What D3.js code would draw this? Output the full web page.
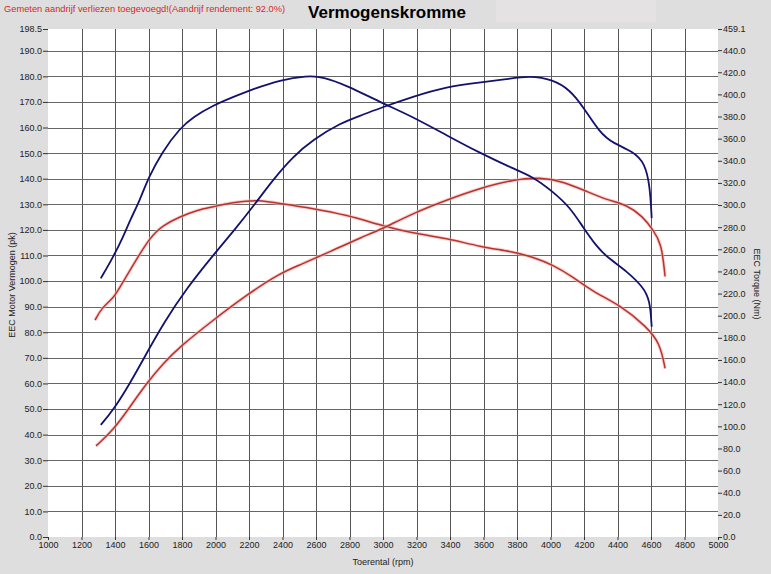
<!DOCTYPE html>
<html>
<head>
<meta charset="utf-8">
<script src="https://cdn.jsdelivr.net/npm/d3@7"></script>
<style>
  body { margin: 0; background: #dedede; }
  svg { display: block; font-family: "Liberation Sans", Arial, sans-serif; }
</style>
</head>
<body>
<svg id="viz"></svg>
<script>
// window sizing
var width = 771,
	height = 574;

// plot box
var margin = {top: 29, right: 53, bottom: 37, left: 48};

// axis ranges and tick values
var rpmTicks = d3.range(1000, 5001, 200);
var pkMax = 198.5;
var nmMax = 459.1;
var pkTicks = d3.range(0, 191, 10).concat([pkMax]);
var nmTicks = d3.range(0, 441, 20).concat([nmMax]);

// run 1 (blue) - [rpm, value]
var blueTorque = [
	[1315, 233.7], [1390, 253.3], [1448, 271], [1490, 286.4], [1549, 304.5],
	[1597, 324], [1681, 348], [1788, 369.5], [1866, 379.5], [1985, 390],
	[2104, 397.5], [2224, 404.8], [2385, 413], [2546, 416.8], [2642, 416],
	[2785, 408], [2982, 393], [3179, 379.7], [3380, 363], [3579, 347],
	[3776, 333], [3896, 325.5], [4015, 312], [4116, 298], [4194, 280],
	[4278, 262], [4337, 253], [4457, 240], [4552, 226], [4594, 214], [4604, 190]
];
var bluePower = [
	[1315, 43.8], [1390, 49.6], [1490, 60.1], [1589, 71.8], [1689, 83.5],
	[1828, 97.2], [1987, 110.2], [2120, 120.5], [2224, 129.1],
	[2343, 139.6], [2463, 148.7], [2582, 155.2], [2743, 161.7], [2881, 165],
	[2982, 167.6], [3179, 172.1], [3380, 176], [3579, 177.6], [3739, 178.9],
	[3878, 180.3], [4015, 178.7], [4116, 174.7], [4194, 168.2], [4296, 157.8],
	[4373, 153.9], [4493, 150.6], [4564, 146.1], [4594, 137], [4604, 124.6]
];

// run 2 (red) - [rpm, value]
var redTorque = [
	[1281, 196], [1320, 207], [1390, 215.7], [1430, 226], [1490, 241.2],
	[1609, 271.3], [1689, 281.9], [1788, 289.4], [1888, 295.4], [1987, 298.4],
	[2087, 302], [2186, 303.6], [2246, 304.5], [2385, 301.5], [2582, 297],
	[2783, 291], [2982, 282], [3179, 274.4], [3380, 270], [3579, 262.3],
	[3776, 257.8], [3896, 253], [4015, 245.8], [4134, 235], [4254, 221.6],
	[4415, 209.6], [4574, 190], [4654, 175], [4684, 152.4]
];
var redPower = [
	[1287, 35.6], [1390, 41.8], [1490, 50.9], [1589, 60.1], [1689, 67.9],
	[1788, 74.4], [1987, 84.8], [2186, 94.6], [2385, 103.1], [2504, 106.3],
	[2684, 111.5], [2881, 117.4], [2982, 120], [3179, 126.5], [3380, 131.7],
	[3579, 136.3], [3776, 139.6], [3937, 140.6], [4075, 138.9], [4218, 135],
	[4337, 131.7], [4457, 129.8], [4552, 125.2], [4612, 120], [4663, 114.8],
	[4684, 101.8]
];

var svg = d3.select("#viz").attr("width", width).attr("height", height);

// background and header
svg.append("rect").attr("width", width).attr("height", height).attr("fill", "#dedede");
svg.append("rect").attr("x", 496).attr("y", 0).attr("width", 160).attr("height", 22).attr("fill", "#e5e2e4");

svg.append("text")
	.attr("x", 4).attr("y", 12)
	.attr("font-size", 9.3)
	.attr("fill", "#d42a22")
	.text("Gemeten aandrijf verliezen toegevoegd!(Aandrijf rendement: 92.0%)");

svg.append("text")
	.attr("x", 387).attr("y", 18)
	.attr("text-anchor", "middle")
	.attr("font-size", 17)
	.attr("font-weight", 700)
	.attr("fill", "#000")
	.text("Vermogenskromme");

// scales
var x = d3.scaleLinear().domain([1000, 5000]).range([margin.left, width - margin.right]);
var yPk = d3.scaleLinear().domain([0, pkMax]).range([height - margin.bottom, margin.top]);
var yNm = d3.scaleLinear().domain([0, nmMax]).range([height - margin.bottom, margin.top]);

// plot area
svg.append("rect")
	.attr("x", x(1000)).attr("y", yPk(pkMax))
	.attr("width", x(5000) - x(1000))
	.attr("height", yPk(0) - yPk(pkMax))
	.attr("fill", "#fff");

// grid
var grid = svg.append("g").attr("class", "grid");
grid.selectAll("line.v")
	.data(rpmTicks.filter(function(d) { return d > 1000 && d < 5000; }))
	.enter().append("line")
	.attr("class", "v")
	.attr("x1", function(d) { return Math.round(x(d)) + 0.5; })
	.attr("x2", function(d) { return Math.round(x(d)) + 0.5; })
	.attr("y1", yPk(pkMax)).attr("y2", yPk(0))
	.attr("stroke", "#555").attr("stroke-width", 1);
grid.selectAll("line.h")
	.data(d3.range(10, 191, 10))
	.enter().append("line")
	.attr("class", "h")
	.attr("x1", x(1000)).attr("x2", x(5000))
	.attr("y1", function(d) { return Math.round(yPk(d)) + 0.5; })
	.attr("y2", function(d) { return Math.round(yPk(d)) + 0.5; })
	.attr("stroke", "#666").attr("stroke-width", 1);

// axes
function styleAxis(g) {
	g.select(".domain").remove();
	g.selectAll("line").attr("stroke", "#333");
	g.selectAll("text").attr("fill", "#222").attr("font-size", 9);
}

svg.append("g")
	.attr("transform", "translate(" + x(1000) + ",0)")
	.call(d3.axisLeft(yPk).tickValues(pkTicks).tickFormat(d3.format(".1f")).tickSize(5).tickPadding(1))
	.call(styleAxis);

svg.append("g")
	.attr("transform", "translate(" + x(5000) + ",0)")
	.call(d3.axisRight(yNm).tickValues(nmTicks).tickFormat(d3.format(".1f")).tickSize(4).tickPadding(1))
	.call(styleAxis);

svg.append("g")
	.attr("transform", "translate(0," + yPk(0) + ")")
	.call(d3.axisBottom(x).tickValues(rpmTicks).tickFormat(d3.format("d")).tickSize(3).tickPadding(2))
	.call(styleAxis);

// axis titles
svg.append("text")
	.attr("transform", "translate(15,285) rotate(-90)")
	.attr("text-anchor", "middle")
	.attr("font-size", 9).attr("fill", "#222")
	.text("EEC Motor Vermogen (pk)");

svg.append("text")
	.attr("transform", "translate(754,284) rotate(90)")
	.attr("text-anchor", "middle")
	.attr("font-size", 9).attr("fill", "#222")
	.text("EEC Torque (Nm)");

svg.append("text")
	.attr("x", 383).attr("y", 565)
	.attr("text-anchor", "middle")
	.attr("font-size", 9).attr("fill", "#222")
	.text("Toerental (rpm)");

// curves (basis spline smooths the hand-read points)
var linePk = d3.line()
	.x(function(d) { return x(d[0]); })
	.y(function(d) { return yPk(d[1]); })
	.curve(d3.curveBasis);
var lineNm = d3.line()
	.x(function(d) { return x(d[0]); })
	.y(function(d) { return yNm(d[1]); })
	.curve(d3.curveBasis);

var curves = svg.append("g").attr("fill", "none");

// soft halo under the red lines
[lineNm(redTorque), linePk(redPower)].forEach(function(p) {
	curves.append("path").attr("d", p)
		.attr("stroke", "#f3b4b4").attr("stroke-width", 3.5).attr("stroke-opacity", 0.6);
	curves.append("path").attr("d", p)
		.attr("stroke", "#b9332c").attr("stroke-width", 1.5);
});

[lineNm(blueTorque), linePk(bluePower)].forEach(function(p) {
	curves.append("path").attr("d", p)
		.attr("stroke", "#12126e").attr("stroke-width", 1.8);
});
</script>
</body>
</html>
